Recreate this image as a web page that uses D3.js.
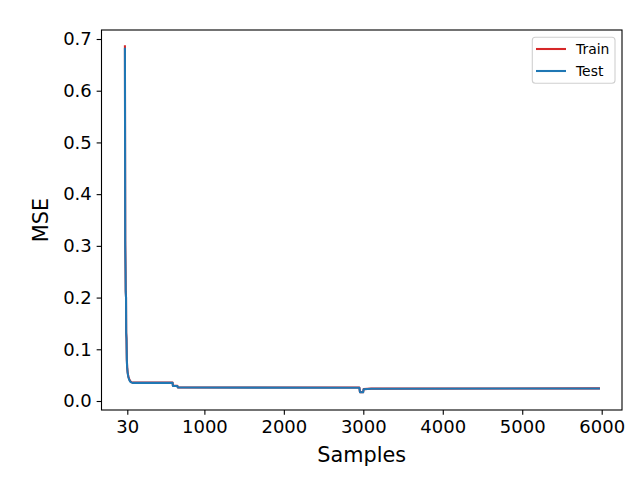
<!DOCTYPE html>
<html><head><meta charset="utf-8">
<script src="https://cdn.jsdelivr.net/npm/d3@7"></script>
<style>body{margin:0;background:#fff}svg{display:block;font-family:"DejaVu Sans",sans-serif}</style>
</head><body><svg id="c" width="640" height="480"></svg>
<script>
const seriesNames = ["Train", "Test"];
const seriesColors = ["#d62728", "#1f77b4"];
const sampleX = [0, 2, 4, 8, 10, 14, 16, 20, 24, 28, 34, 42, 52, 64, 80, 100, 600, 604, 660, 666, 2950, 2958, 2998, 3004, 3100, 5965];
const trainY = [0.686, 0.50, 0.31, 0.252, 0.214, 0.20, 0.133, 0.121, 0.081, 0.066, 0.056, 0.048, 0.043, 0.039, 0.0365, 0.0355, 0.0355, 0.0295, 0.0293, 0.0263, 0.0262, 0.0172, 0.0172, 0.0229, 0.0240, 0.0244];
const testY  = [0.681, 0.50, 0.30, 0.250, 0.211, 0.20, 0.131, 0.120, 0.080, 0.065, 0.055, 0.047, 0.042, 0.038, 0.036, 0.035, 0.035, 0.029, 0.029, 0.026, 0.0257, 0.017, 0.017, 0.0226, 0.0238, 0.0242];
const xTicks = [30, 1000, 2000, 3000, 4000, 5000, 6000];
const yTicks = [0.0, 0.1, 0.2, 0.3, 0.4, 0.5, 0.6, 0.7];
const xLabel = "Samples", yLabel = "MSE";

const L = 101.5, R = 622, T = 30, B = 410;
const svg = d3.select("#c");
const x = d3.scaleLinear().domain([-294.7, 6255.5]).range([L, R]);
const y = d3.scaleLinear().domain([-0.0174, 0.7174]).range([B, T]);

const line = d3.line().x(d => x(d[0])).y(d => y(d[1]));
[trainY, testY].forEach((ys, i) => {
  svg.append("path").datum(sampleX.map((v, j) => [v, ys[j]]))
    .attr("d", line).attr("fill", "none").attr("stroke", seriesColors[i])
    .attr("stroke-width", 2.08).attr("stroke-linejoin", "round").attr("stroke-linecap", "square");
});

const xa = svg.append("g").attr("transform", `translate(0,${B})`)
  .call(d3.axisBottom(x).tickValues(xTicks).tickFormat(d3.format("d")).tickSize(4.86).tickPadding(4.86));
const ya = svg.append("g").attr("transform", `translate(${L},0)`)
  .call(d3.axisLeft(y).tickValues(yTicks).tickFormat(d3.format(".1f")).tickSize(4.86).tickPadding(4.86));
[xa, ya].forEach(a => {
  a.select(".domain").remove();
  a.selectAll("line").attr("stroke", "#000").attr("stroke-width", 1.1);
  a.selectAll("text").attr("font-size", 18).attr("fill", "#000").attr("font-family", "DejaVu Sans");
});

svg.append("rect").attr("x", L).attr("y", T).attr("width", R - L).attr("height", B - T)
  .attr("fill", "none").attr("stroke", "#000").attr("stroke-width", 1.1);

svg.append("text").attr("x", (L + R) / 2).attr("y", 462).attr("text-anchor", "middle")
  .attr("font-size", 20.8).text(xLabel);
svg.append("text").attr("transform", `translate(48,${(T + B) / 2}) rotate(-90)`).attr("text-anchor", "middle")
  .attr("font-size", 20.8).text(yLabel);

const lg = svg.append("g");
lg.append("rect").attr("x", 532.3).attr("y", 37.3).attr("width", 82.7).attr("height", 46).attr("rx", 3)
  .attr("fill", "#fff").attr("fill-opacity", 0.8).attr("stroke", "#d0d0d0").attr("stroke-width", 1.1);
seriesNames.forEach((n, i) => {
  const yy = 49 + i * 22;
  lg.append("line").attr("x1", 536).attr("x2", 566).attr("y1", yy).attr("y2", yy)
    .attr("stroke", seriesColors[i]).attr("stroke-width", 2.08);
  lg.append("text").attr("x", 576).attr("y", yy + 5).attr("font-size", 13.9).text(n);
});
</script></body></html>
